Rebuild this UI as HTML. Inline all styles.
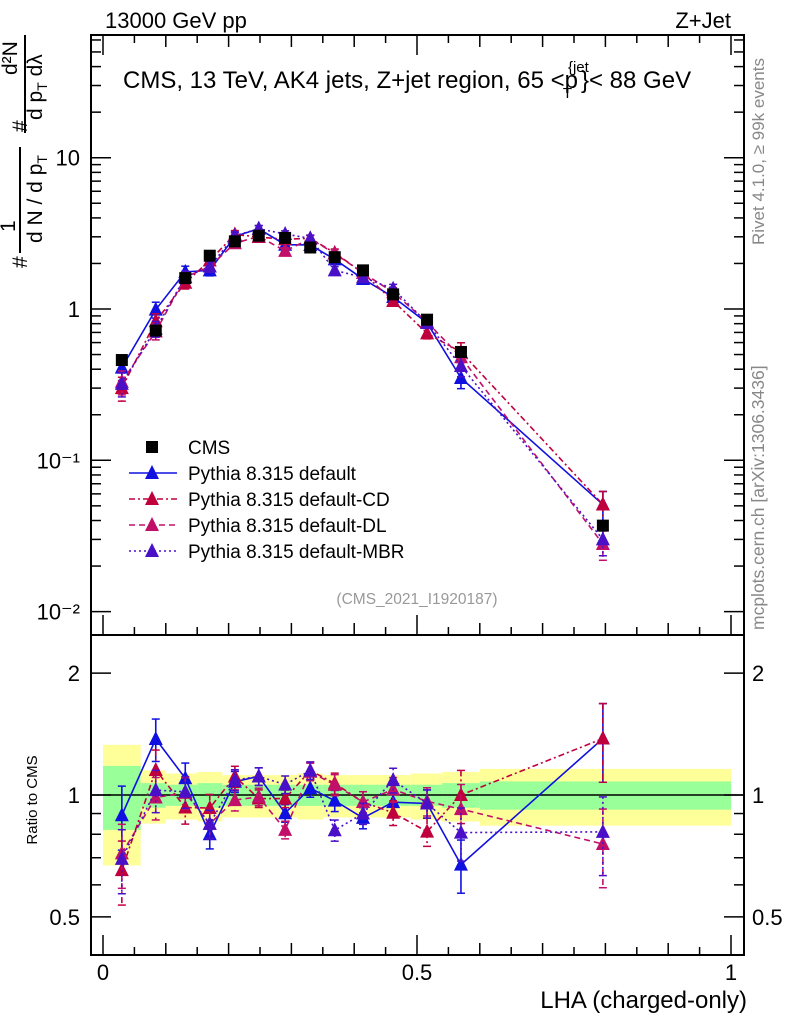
<!DOCTYPE html>
<html><head><meta charset="utf-8"><style>
html,body{margin:0;padding:0;background:#fff}
svg{display:block;font-family:"Liberation Sans",sans-serif}
</style></head><body>
<svg id="c" width="786" height="1024" viewBox="0 0 786 1024" xmlns="http://www.w3.org/2000/svg">
<g id="bands"></g>
<g id="grid"></g>
<g id="series"></g>
<rect x="91" y="35" width="653" height="600" fill="none" stroke="#000" stroke-width="2"/>
<rect x="91" y="635" width="653" height="320" fill="none" stroke="#000" stroke-width="2"/>
<g id="ticks"></g>
<text x="105" y="28" font-size="22">13000 GeV pp</text>
<text x="731" y="28" font-size="22" text-anchor="end">Z+Jet</text>
<text x="123" y="88" font-size="24">CMS, 13 TeV, AK4 jets, Z+jet region, 65 &lt;p<tspan font-size="15" dy="-16" dx="-10">{jet</tspan><tspan font-size="15" dy="26" dx="-26">T</tspan><tspan dy="-10" dx="9">}&lt; 88 GeV</tspan></text>
<text transform="translate(764,245) rotate(-90)" font-size="17" fill="#888">Rivet 4.1.0, ≥ 99k events</text>
<text transform="translate(764,630) rotate(-90)" font-size="17.5" fill="#888">mcplots.cern.ch [arXiv:1306.3436]</text>
<text x="417" y="604" font-size="15.5" fill="#999" text-anchor="middle">(CMS_2021_I1920187)</text>
<g transform="translate(0,270) rotate(-90)">
<text x="2" y="27" font-size="21">#</text>
<text x="38" y="15" font-size="21">1</text>
<line x1="17" y1="20" x2="123" y2="20" stroke="#000" stroke-width="2"/>
<text x="27" y="42" font-size="21">d N / d p<tspan font-size="14" dy="5">T</tspan></text>
<text x="138" y="27" font-size="21">#</text>
<text x="195" y="17" font-size="21">d²N</text>
<line x1="137" y1="25" x2="235" y2="25" stroke="#000" stroke-width="2"/>
<text x="150" y="42" font-size="21">d p<tspan font-size="14" dy="5">T</tspan><tspan dy="-5">  dλ</tspan></text>
</g>
<text x="37" y="800" font-size="15" transform="rotate(-90 37 800)" text-anchor="middle">Ratio to CMS</text>
<text x="747" y="1008" font-size="24" text-anchor="end">LHA (charged-only)</text>
<g id="legend"></g>
</svg>
<script>
const edges=[0,0.06,0.10,0.15,0.19,0.23,0.27,0.31,0.35,0.39,0.44,0.49,0.54,0.60,1.0];
const centers=[0.030,0.084,0.131,0.170,0.210,0.248,0.290,0.330,0.369,0.414,0.462,0.516,0.570,0.796];
const cms=[0.46,0.72,1.6,2.25,2.8,3.05,2.95,2.55,2.2,1.8,1.25,0.85,0.52,0.037];
const bandGreen=[0.18,0.07,0.06,0.07,0.06,0.06,0.06,0.06,0.06,0.06,0.06,0.06,0.07,0.08];
const bandYellow=[0.33,0.15,0.13,0.14,0.12,0.12,0.12,0.13,0.12,0.12,0.12,0.13,0.14,0.16];
const pyDefault=[0.41,0.99,1.76,1.80,3.02,3.39,2.66,2.65,2.13,1.58,1.20,0.81,0.35,0.051];
const pyCD=[0.30,0.83,1.49,2.09,3.11,2.99,2.89,2.93,2.35,1.73,1.13,0.69,0.52,0.051];
const pyDL=[0.33,0.71,1.62,1.91,2.72,3.02,2.42,2.91,2.33,1.73,1.29,0.82,0.48,0.028];
const pyMBR=[0.32,0.74,1.63,1.91,3.05,3.39,3.13,2.93,1.80,1.62,1.36,0.81,0.42,0.030];
const mcErr=[0.18,0.12,0.09,0.08,0.06,0.05,0.05,0.05,0.06,0.06,0.07,0.08,0.15,0.22];
const yTicks=[0.01,0.1,1,10];
const yTickLabels=["10⁻²","10⁻¹","1","10"];
const rTicks=[0.5,1,2];
const xTicks=[0,0.5,1];

const NS="http://www.w3.org/2000/svg";
const XR=744;
const X=v=>103+v*628;
const Y=v=>309-Math.log10(v)*151.3;
const R=v=>795-Math.log10(v)*405;
function mk(par,tag,attrs){const e=document.createElementNS(NS,tag);for(const k in attrs)e.setAttribute(k,attrs[k]);document.getElementById(par).appendChild(e);return e;}
function clipR(v){return Math.min(Math.max(v,0.42),2.4);}

for(let i=0;i<centers.length;i++){
  const x0=X(edges[i]),x1=X(edges[i+1]);
  let e=mk('bands','rect',{x:x0,y:R(1+bandYellow[i]),width:x1-x0,height:R(1-bandYellow[i])-R(1+bandYellow[i]),fill:'#ffff99'});
  
  
  e=mk('bands','rect',{x:x0,y:R(1+bandGreen[i]),width:x1-x0,height:R(1-bandGreen[i])-R(1+bandGreen[i]),fill:'#99ff99'});
  
  
}
let ln=mk('bands','line',{x1:91,x2:XR,y1:R(1),y2:R(1),stroke:'#000','stroke-width':1.5});



for(let d=-2;d<=1;d++){for(let m=1;m<10;m++){const v=m*Math.pow(10,d);const y=Y(v);if(y<35||y>635)continue;const L=m==1?20:10;
  mk('ticks','line',{x1:91,x2:91+L,y1:y,y2:y,stroke:'#000','stroke-width':1.5});
  mk('ticks','line',{x1:XR,x2:XR-L,y1:y,y2:y,stroke:'#000','stroke-width':1.5});}}
yTicks.forEach((v,i)=>{const t=mk('ticks','text',{x:80,y:Y(v)+8,'font-size':22,'text-anchor':'end'});t.textContent=yTickLabels[i];
  
  });
[0.5,0.6,0.7,0.8,0.9,1,2].forEach(v=>{const y=R(v);const L=(v==0.5||v==1||v==2)?20:10;
  mk('ticks','line',{x1:91,x2:91+L,y1:y,y2:y,stroke:'#000','stroke-width':1.5});
  mk('ticks','line',{x1:XR,x2:XR-L,y1:y,y2:y,stroke:'#000','stroke-width':1.5});});
rTicks.forEach(v=>{[[80,'end'],[752,'start']].forEach(p=>{const t=mk('ticks','text',{x:p[0],y:R(v)+8,'font-size':22,'text-anchor':p[1]});t.textContent=String(v);
  
  });});
for(let k=0;k<=20;k++){const v=k*0.05;const x=X(v);const L=(k%10==0)?20:(k%2==0?12:8);
  mk('ticks','line',{x1:x,x2:x,y1:955,y2:955-L,stroke:'#000','stroke-width':1.5});
  mk('ticks','line',{x1:x,x2:x,y1:35,y2:35+L,stroke:'#000','stroke-width':1.5});
  mk('ticks','line',{x1:x,x2:x,y1:635,y2:635-L,stroke:'#000','stroke-width':1.5});}
xTicks.forEach(v=>{const t=mk('ticks','text',{x:X(v),y:980,'font-size':22,'text-anchor':'middle'});t.textContent=String(v);
  
  });

const series=[
 {name:'default',vals:pyDefault,color:'#1010e0',dash:''},
 {name:'cd',vals:pyCD,color:'#c0003c',dash:'6,3,2,3'},
 {name:'dl',vals:pyDL,color:'#c0106a',dash:'6,4'},
 {name:'mbr',vals:pyMBR,color:'#4a10c8',dash:'2,3'}];
function tri(x,y,c,name){const e=mk('series','polygon',{points:`${x-7},${y+6} ${x+7},${y+6} ${x},${y-8}`,fill:c});
  
  }
series.forEach(s=>{
  let p1='',p2='';
  s.vals.forEach((v,i)=>{p1+=(i?'L':'M')+X(centers[i])+','+Y(v);p2+=(i?'L':'M')+X(centers[i])+','+R(clipR(v/cms[i]));});
  let e=mk('series','path',{d:p1,fill:'none',stroke:s.color,'stroke-width':1.6,'stroke-dasharray':s.dash});
  
  
  e=mk('series','path',{d:p2,fill:'none',stroke:s.color,'stroke-width':1.6,'stroke-dasharray':s.dash});
  
  
  s.vals.forEach((v,i)=>{const x=X(centers[i]);const r=v/cms[i];
    mk('series','line',{x1:x,x2:x,y1:Y(v*(1+mcErr[i])),y2:Y(v*(1-mcErr[i])),stroke:s.color,'stroke-width':1.6,'stroke-dasharray':s.dash});
    mk('series','line',{x1:x,x2:x,y1:R(clipR(r*(1+mcErr[i]))),y2:R(clipR(r*(1-mcErr[i]))),stroke:s.color,'stroke-width':1.6,'stroke-dasharray':s.dash});
    [Y(v*(1+mcErr[i])),Y(v*(1-mcErr[i])),R(clipR(r*(1+mcErr[i]))),R(clipR(r*(1-mcErr[i])))].forEach(yy=>mk('series','line',{x1:x-4,x2:x+4,y1:yy,y2:yy,stroke:s.color,'stroke-width':1.5}));
    tri(x,Y(v),s.color,'point-'+s.name);
    tri(x,R(clipR(r)),s.color,'ratio-point-'+s.name);
  });
});
cms.forEach((v,i)=>{const x=X(centers[i]);const e=mk('series','rect',{x:x-6,y:Y(v)-6,width:12,height:12,fill:'#000'});
  
  });

const legNames=['CMS','Pythia 8.315 default','Pythia 8.315 default-CD','Pythia 8.315 default-DL','Pythia 8.315 default-MBR'];
legNames.forEach((n,i)=>{const y=447+i*26;
  if(i==0){mk('legend','rect',{x:146,y:y-6,width:12,height:12,fill:'#000'});}
  else{const s=series[i-1];mk('legend','line',{x1:129,x2:177,y1:y,y2:y,stroke:s.color,'stroke-width':1.6,'stroke-dasharray':s.dash});
    mk('legend','polygon',{points:`${145},${y+6} ${159},${y+6} ${152},${y-8}`,fill:s.color});}
  const t=mk('legend','text',{x:188,y:y+7,'font-size':19});t.textContent=n;
  
  });
</script>
</body></html>
